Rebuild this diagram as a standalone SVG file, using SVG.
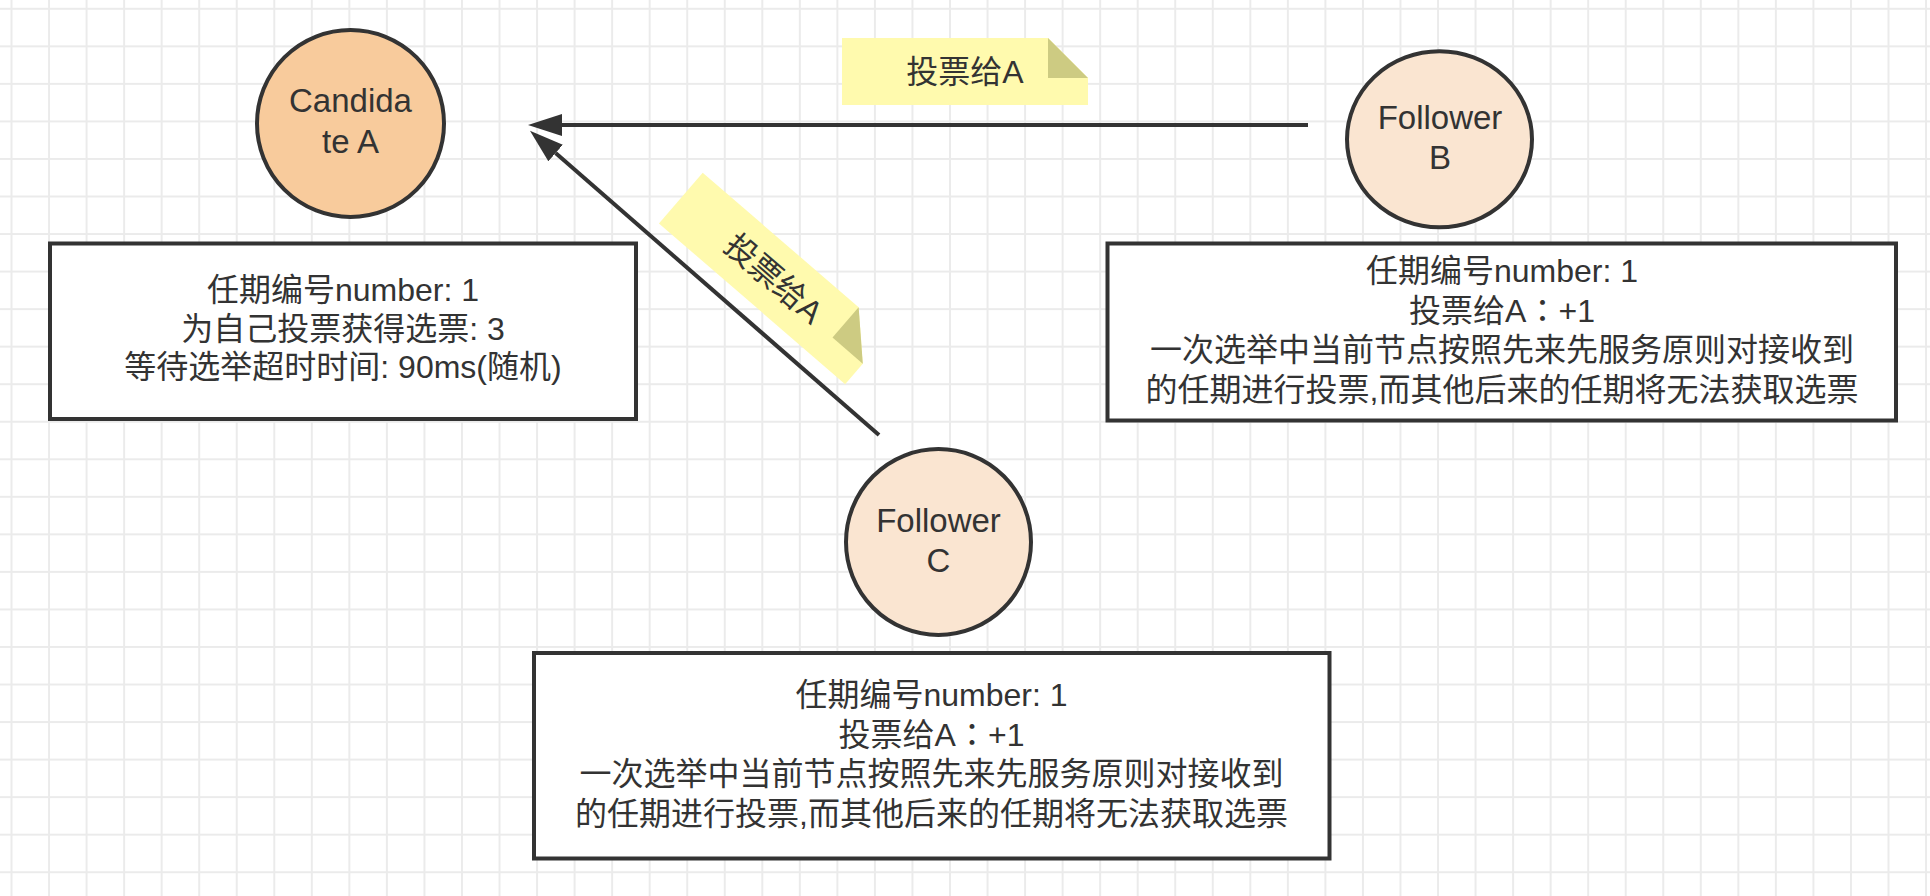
<svg xmlns="http://www.w3.org/2000/svg" width="1930" height="896" viewBox="0 0 1930 896">
  <defs>
    <pattern id="grid" x="-7.27" y="-9.97" width="37.54" height="37.54" patternUnits="userSpaceOnUse">
      <path d="M18.77,0 V37.54 M0,18.77 H37.54" stroke="#ebebeb" stroke-width="2" fill="none"/>
    </pattern>
    <marker id="arrow" viewBox="0 0 34 22" refX="0" refY="11" markerWidth="34" markerHeight="22" markerUnits="userSpaceOnUse" orient="auto">
      <path d="M0,0 L34,11 L0,22 Z" fill="#333333"/>
    </marker>
    <style>
      .lbl { font-family: "Liberation Sans", "Noto Sans CJK SC", sans-serif; fill: #333333; text-anchor: middle; }
      .clbl { font-size: 33px; }
      .blbl { font-size: 32px; }
      .tc { font-family: "Noto Sans CJK TC", "Noto Sans CJK SC", sans-serif; }
      .cand { fill: #F8CB9C; stroke: #333333; stroke-width: 4; }
      .foll { fill: #FAE5D1; stroke: #333333; stroke-width: 4; }
      .box { fill: #ffffff; stroke: #333333; stroke-width: 4; }
      .edge { fill: none; stroke: #333333; stroke-width: 4; }
      .note { fill: #FFFAAE; }
      .fold { fill: #CDCB82; }
    </style>
  </defs>

  <rect x="0" y="0" width="1930" height="896" fill="#ffffff"/>
  <rect x="0" y="0" width="1930" height="896" fill="url(#grid)"/>

  <g id="connectors">
    <path class="edge" d="M1308,125 L562,125" marker-end="url(#arrow)"/>
    <path class="edge" d="M879,435 L555.6,153" marker-end="url(#arrow)"/>
  </g>

  <g id="note-b">
    <path class="note" d="M842,38 H1048 L1088,78 V105 H842 Z"/>
    <path class="fold" d="M1048,38 V78 H1088 Z"/>
    <text class="lbl blbl" x="965" y="83">投票给A</text>
  </g>

  <g id="note-c" transform="translate(702.7,172.7) rotate(40.8)">
    <path class="note" d="M0,0 H206 L246,40 V67 H0 Z"/>
    <path class="fold" d="M206,0 V40 H246 Z"/>
    <text class="lbl blbl" x="123" y="45">投票给A</text>
  </g>

  <g id="candidate-a">
    <circle class="cand" cx="350.5" cy="123.5" r="93.5"/>
    <text class="lbl clbl" x="350.5" y="112">Candida</text>
    <text class="lbl clbl" x="350.5" y="153">te A</text>
  </g>

  <g id="box-a">
    <rect class="box" x="50" y="243.5" width="586" height="175.5"/>
    <text class="lbl blbl" x="343" y="301">任期编号number: 1</text>
    <text class="lbl blbl" x="343" y="339.5">为自己投票获得选票: 3</text>
    <text class="lbl blbl" x="343" y="378">等待选举超时时间: 90ms(随机)</text>
  </g>

  <g id="follower-b">
    <ellipse class="foll" cx="1439.5" cy="139.3" rx="92.5" ry="88"/>
    <text class="lbl clbl" x="1440" y="128.5">Follower</text>
    <text class="lbl clbl" x="1440" y="168.5">B</text>
  </g>

  <g id="box-b">
    <rect class="box" x="1107.5" y="243.5" width="788.5" height="177"/>
    <text class="lbl blbl" x="1502" y="282">任期编号number: 1</text>
    <text class="lbl blbl" x="1502" y="321.5">投票给A<tspan class="tc">：</tspan>+1</text>
    <text class="lbl blbl" x="1502" y="361">一次选举中当前节点按照先来先服务原则对接收到</text>
    <text class="lbl blbl" x="1502" y="400.5">的任期进行投票,而其他后来的任期将无法获取选票</text>
  </g>

  <g id="follower-c">
    <ellipse class="foll" cx="938.5" cy="542" rx="92.5" ry="93"/>
    <text class="lbl clbl" x="938.5" y="532">Follower</text>
    <text class="lbl clbl" x="938.5" y="572">C</text>
  </g>

  <g id="box-c">
    <rect class="box" x="534" y="653" width="795.5" height="205.5"/>
    <text class="lbl blbl" x="931.5" y="706">任期编号number: 1</text>
    <text class="lbl blbl" x="931.5" y="745.5">投票给A<tspan class="tc">：</tspan>+1</text>
    <text class="lbl blbl" x="931.5" y="785">一次选举中当前节点按照先来先服务原则对接收到</text>
    <text class="lbl blbl" x="931.5" y="824.5">的任期进行投票,而其他后来的任期将无法获取选票</text>
  </g>
</svg>
